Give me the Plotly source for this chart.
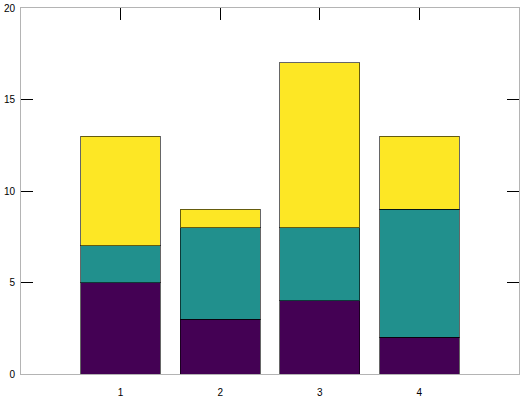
import plotly.graph_objects as go

categories = [1, 2, 3, 4]
series1 = [5, 3, 4, 2]
series2 = [2, 5, 4, 7]
series3 = [6, 1, 9, 4]
colors = ["#440154", "#21908d", "#fde725"]
x_ticks = [1, 2, 3, 4]
y_ticks = [0, 5, 10, 15, 20]

fig = go.Figure()
for vals, col in zip([series1, series2, series3], colors):
    fig.add_trace(go.Bar(x=categories, y=vals, width=0.8,
                         marker=dict(color=col, line=dict(color="rgba(0,0,0,0.6)", width=1)),
                         showlegend=False))

axis_common = dict(showgrid=False, zeroline=False, showline=True, linecolor="#b4b4b4", linewidth=1,
                   ticks="inside", ticklen=12, tickcolor="#000", tickwidth=1, mirror="allticks",
                   automargin=False, layer="below traces",
                   tickfont=dict(family="Liberation Sans, Arial", size=10, color="#000"))
fig.update_layout(
    barmode="stack",
    width=526, height=398,
    margin=dict(l=21, r=7, t=8, b=24),
    plot_bgcolor="white", paper_bgcolor="white",
    hovermode=False,
    xaxis=dict(range=[0, 5], tickvals=x_ticks, ticktext=[str(v) for v in x_ticks],
               ticklabelstandoff=9, **axis_common),
    yaxis=dict(range=[0, 20], tickvals=y_ticks, ticktext=[str(v) for v in y_ticks],
               ticklabelstandoff=3, **axis_common),
)
fig.write_html("out.html", config={"displayModeBar": False},
               post_script="document.body.style.margin='0';")
